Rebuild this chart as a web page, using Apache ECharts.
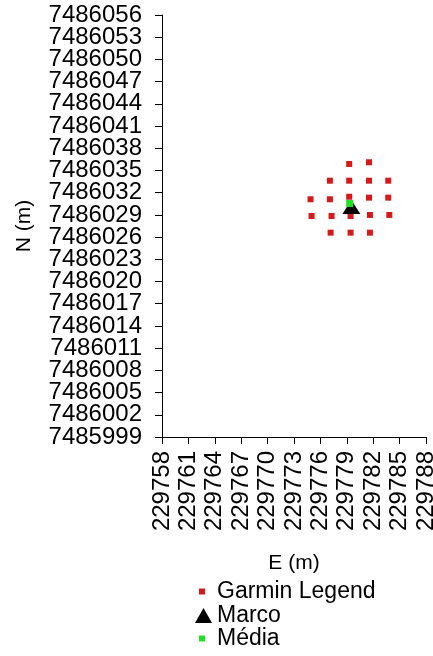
<!DOCTYPE html>
<html>
<head>
<meta charset="utf-8">
<script src="https://cdn.jsdelivr.net/npm/echarts@6/dist/echarts.min.js"></script>
<style>
html,body{margin:0;padding:0;background:#fff;}
#chart{width:433px;height:656px;}
</style>
</head>
<body>
<div id="chart"></div>
<script>
// Data
var garminE = [229779.27, 229781.52,
  229777.08, 229779.27, 229781.52, 229783.71,
  229774.88, 229777.08, 229779.27, 229781.52, 229783.71,
  229775.00, 229777.27, 229779.43, 229781.63, 229783.83,
  229777.16, 229779.43, 229781.63];
var garminN = [7486035.88, 7486036.11,
  7486033.62, 7486033.62, 7486033.62, 7486033.62,
  7486031.11, 7486031.11, 7486031.45, 7486031.33, 7486031.33,
  7486028.85, 7486028.85, 7486028.85, 7486028.99, 7486028.99,
  7486026.60, 7486026.60, 7486026.60];
var marcoE = [229779.52];
var marcoN = [7486030.07];
var mediaE = [229779.33];
var mediaN = [7486030.54];
var seriesNames = ['Garmin Legend', 'Marco', 'Média'];
var xMin = 229758, xMax = 229788, xStep = 3;
var yMin = 7485999, yMax = 7486056, yStep = 3;

function pairs(e, n) { return e.map(function (v, i) { return [v, n[i]]; }); }
function plain(v) { return String(Math.round(v)); }

var FONT = '"Liberation Sans", Arial, sans-serif';
var chart = echarts.init(document.getElementById('chart'), null, {renderer: 'canvas'});
var squareIcon = 'path://M0 0H10V10H0Z';
var yLabelStyle = {margin: 20, fontSize: 24, color: '#000', fontFamily: FONT, hideOverlap: false, formatter: plain};
chart.setOption({
  backgroundColor: '#ffffff',
  animation: false,
  textStyle: {fontFamily: FONT, color: '#000'},
  grid: {left: 162, right: 7, top: 15, bottom: 219, containLabel: false, outerBoundsMode: 'none'},
  xAxis: {
    type: 'value', min: xMin, max: xMax, interval: xStep,
    name: 'E (m)', nameLocation: 'middle', nameGap: 116, nameMoveOverlap: false,
    nameTextStyle: {fontSize: 21, color: '#000', fontFamily: FONT},
    axisLine: {show: true, onZero: false, lineStyle: {color: '#000', width: 1}},
    axisTick: {show: true, length: 7, inside: false, lineStyle: {color: '#000'}},
    axisLabel: {rotate: 90, margin: 14, fontSize: 24, color: '#000', fontFamily: FONT,
      showMinLabel: true, showMaxLabel: true, hideOverlap: false, formatter: plain},
    splitLine: {show: false}
  },
  yAxis: [{
    type: 'value', min: yMin, max: yMax, interval: yStep, position: 'left',
    name: 'N (m)', nameLocation: 'middle', nameGap: 127, nameMoveOverlap: false,
    nameTextStyle: {fontSize: 21, color: '#000', fontFamily: FONT},
    axisLine: {show: true, onZero: false, lineStyle: {color: '#000', width: 1}},
    axisTick: {show: true, length: 7, inside: false, lineStyle: {color: '#000'}},
    axisLabel: Object.assign({showMinLabel: false, showMaxLabel: false}, yLabelStyle),
    splitLine: {show: false}
  }, {
    type: 'value', min: yMin, max: yMax, interval: yStep, position: 'left', offset: 0,
    axisLine: {show: false, onZero: false},
    axisTick: {show: true, length: 7, inside: false, customValues: [yMin, yMax], lineStyle: {color: '#000'}},
    axisLabel: Object.assign({customValues: [yMin, yMax]}, yLabelStyle),
    splitLine: {show: false}
  }],
  legend: [
    {data: [{name: seriesNames[0], icon: squareIcon}], orient: 'vertical', left: 199, top: 580,
      padding: 0, itemWidth: 20, itemHeight: 6, textStyle: {fontSize: 23, color: '#000', fontFamily: FONT}},
    {data: [{name: seriesNames[1], icon: 'triangle'}], orient: 'vertical', left: 195, top: 604,
      padding: 0, itemWidth: 17, itemHeight: 15, textStyle: {fontSize: 23, color: '#000', fontFamily: FONT}},
    {data: [{name: seriesNames[2], icon: squareIcon}], orient: 'vertical', left: 199, top: 627,
      padding: 0, itemWidth: 20, itemHeight: 6, textStyle: {fontSize: 23, color: '#000', fontFamily: FONT}}
  ],
  series: [
    {name: seriesNames[0], type: 'scatter', symbol: 'rect', symbolSize: 6,
      itemStyle: {color: '#d41a1a', opacity: 1}, data: pairs(garminE, garminN), z: 2},
    {name: seriesNames[1], type: 'scatter', symbol: 'triangle', symbolSize: [18, 14],
      itemStyle: {color: '#000000', opacity: 1}, data: pairs(marcoE, marcoN), z: 3},
    {name: seriesNames[2], type: 'scatter', symbol: 'rect', symbolSize: 7,
      itemStyle: {color: '#22e022', opacity: 1}, data: pairs(mediaE, mediaN), z: 4}
  ]
});
</script>
</body>
</html>
